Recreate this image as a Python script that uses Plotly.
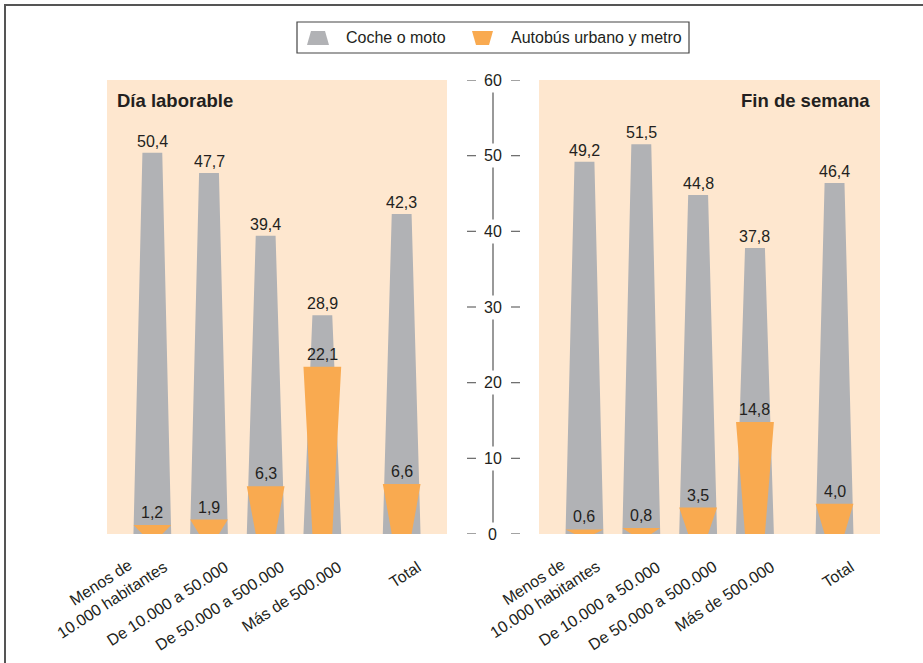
import plotly.graph_objects as go

# Categories and values (% of trips)
categories = ["Menos de<br>10.000 habitantes", "De 10.000 a 50.000",
              "De 50.000 a 500.000", "Más de 500.000", "Total"]
laborable_coche = [50.4, 47.7, 39.4, 28.9, 42.3]
laborable_bus = [1.2, 1.9, 6.3, 22.1, 6.6]
finde_coche = [49.2, 51.5, 44.8, 37.8, 46.4]
finde_bus = [0.6, 0.8, 3.5, 14.8, 4.0]
y_ticks = [0, 10, 20, 30, 40, 50, 60]

# Layout constants
W, H = 923, 663
slot = [0, 1, 2, 3, 4.4]          # category centres along each x axis
HALF_WIDE, HALF_NARROW = 0.333, 0.175
GREY = "#b1b2b5"
ORANGE = "#f9aa50"
PEACH = "#fee7cf"
TEXT = "#231f20"
FONT = "Liberation Sans, Arial, sans-serif"
FS = 16


def px(x):
    return x / W


def py(y):
    return 1 - y / H


def fmt(v):
    return f"{v:.1f}".replace(".", ",")


def trapezoids(values, narrow_top):
    xs, ys = [], []
    for c, v in zip(slot, values):
        bw, tw = (HALF_WIDE, HALF_NARROW) if narrow_top else (HALF_NARROW, HALF_WIDE)
        xs += [c - bw, c - tw, c + tw, c + bw, c - bw, None]
        ys += [0, v, v, 0, 0, None]
    return xs, ys


fig = go.Figure()

panels = [("x", "y", laborable_coche, laborable_bus),
          ("x2", "y2", finde_coche, finde_bus)]

annotations = []
for xa, ya, coche, bus in panels:
    gx, gy = trapezoids(coche, True)
    fig.add_trace(go.Scatter(x=gx, y=gy, fill="toself", fillcolor=GREY, mode="lines",
                             line=dict(width=0), name="Coche o moto",
                             xaxis=xa, yaxis=ya, showlegend=False, hoverinfo="skip"))
    ox, oy = trapezoids(bus, False)
    fig.add_trace(go.Scatter(x=ox, y=oy, fill="toself", fillcolor=ORANGE, mode="lines",
                             line=dict(width=0), name="Autobús urbano y metro",
                             xaxis=xa, yaxis=ya, showlegend=False, hoverinfo="skip"))
    for c, v in zip(slot, coche):
        annotations.append(dict(x=c, y=v, xref=xa, yref=ya, text=fmt(v), showarrow=False,
                                yanchor="bottom", yshift=1,
                                font=dict(size=FS, color=TEXT, family=FONT)))
    for c, v in zip(slot, bus):
        annotations.append(dict(x=c, y=v, xref=xa, yref=ya, text=fmt(v), showarrow=False,
                                yanchor="bottom", yshift=2,
                                font=dict(size=FS, color=TEXT, family=FONT)))
    # Category labels, rotated, centred line by line
    for c, label in zip(slot, categories):
        two_lines = "<br>" in label
        annotations.append(dict(x=c, y=py(555), xref=xa, yref="paper", text=label,
                                showarrow=False, textangle=-33, align="center",
                                xanchor="right", yanchor="top",
                                xshift=21 if two_lines else 25,
                                yshift=17 if two_lines else 0,
                                font=dict(size=FS, color=TEXT, family=FONT)))

# Panel titles
annotations.append(dict(x=px(115), y=py(100), xref="paper", yref="paper", text="<b>Día laborable</b>",
                        xanchor="left", yanchor="middle", showarrow=False,
                        font=dict(size=18.5, color=TEXT, family=FONT)))
annotations.append(dict(x=px(872), y=py(100), xref="paper", yref="paper", text="<b>Fin de semana</b>",
                        xanchor="right", yanchor="middle", showarrow=False,
                        font=dict(size=18.5, color=TEXT, family=FONT)))

shapes = []
# Central value scale
axis_x = px(493)
shapes.append(dict(type="line", xref="paper", yref="y", x0=axis_x, x1=axis_x, y0=0, y1=60,
                   line=dict(color="#555555", width=1.2), layer="below"))
for t in y_ticks:
    annotations.append(dict(x=axis_x, y=t, xref="paper", yref="y", text=str(t), showarrow=False,
                            xanchor="center", yanchor="middle", bgcolor="white",
                            borderpad=3, font=dict(size=FS, color=TEXT, family=FONT)))
    for a, b in ((467, 476), (511, 520)):
        shapes.append(dict(type="line", xref="paper", yref="y", x0=px(a), x1=px(b), y0=t, y1=t,
                           line=dict(color="#666666", width=1.2)))

# Legend box
shapes.append(dict(type="rect", xref="paper", yref="paper", x0=px(297), x1=px(689),
                   y0=py(53), y1=py(22), line=dict(color="#444444", width=1.2), fillcolor="white"))
shapes.append(dict(type="path", xref="paper", yref="paper",
                   path=f"M {px(307)},{py(45)} L {px(311)},{py(31)} L {px(325)},{py(31)} L {px(329)},{py(45)} Z",
                   fillcolor=GREY, line=dict(width=0)))
shapes.append(dict(type="path", xref="paper", yref="paper",
                   path=f"M {px(472)},{py(31)} L {px(493)},{py(31)} L {px(489)},{py(45)} L {px(476)},{py(45)} Z",
                   fillcolor=ORANGE, line=dict(width=0)))
annotations.append(dict(x=px(344), y=py(37), xref="paper", yref="paper", text="Coche o moto",
                        xanchor="left", yanchor="middle", showarrow=False,
                        font=dict(size=FS, color=TEXT, family=FONT)))
annotations.append(dict(x=px(509), y=py(37), xref="paper", yref="paper", text="Autobús urbano y metro",
                        xanchor="left", yanchor="middle", showarrow=False,
                        font=dict(size=FS, color=TEXT, family=FONT)))

# Outer frame
shapes.append(dict(type="rect", xref="paper", yref="paper", x0=px(5), x1=1.2, y0=-0.2, y1=py(5),
                   line=dict(color="#555555", width=2), layer="below"))

xaxis_common = dict(range=[-0.8, 5.2], showticklabels=False, showgrid=False, zeroline=False,
                    showline=False, ticks="", fixedrange=True, automargin=False)
yaxis_common = dict(range=[0, 60], showgrid=False, zeroline=False, showline=False,
                    showticklabels=False, ticks="", fixedrange=True, automargin=False)

fig.update_layout(
    width=W, height=H,
    margin=dict(l=0, r=0, t=0, b=0),
    paper_bgcolor="white",
    plot_bgcolor=PEACH,
    showlegend=False,
    xaxis=dict(domain=[px(107), px(447)], anchor="y", **xaxis_common),
    xaxis2=dict(domain=[px(539), px(880)], anchor="y2", **xaxis_common),
    yaxis=dict(domain=[py(534), py(80)], anchor="x", **yaxis_common),
    yaxis2=dict(domain=[py(534), py(80)], anchor="x2", **yaxis_common),
    annotations=annotations,
    shapes=shapes,
    font=dict(family=FONT, color=TEXT),
)

fig.write_html("out.html")
